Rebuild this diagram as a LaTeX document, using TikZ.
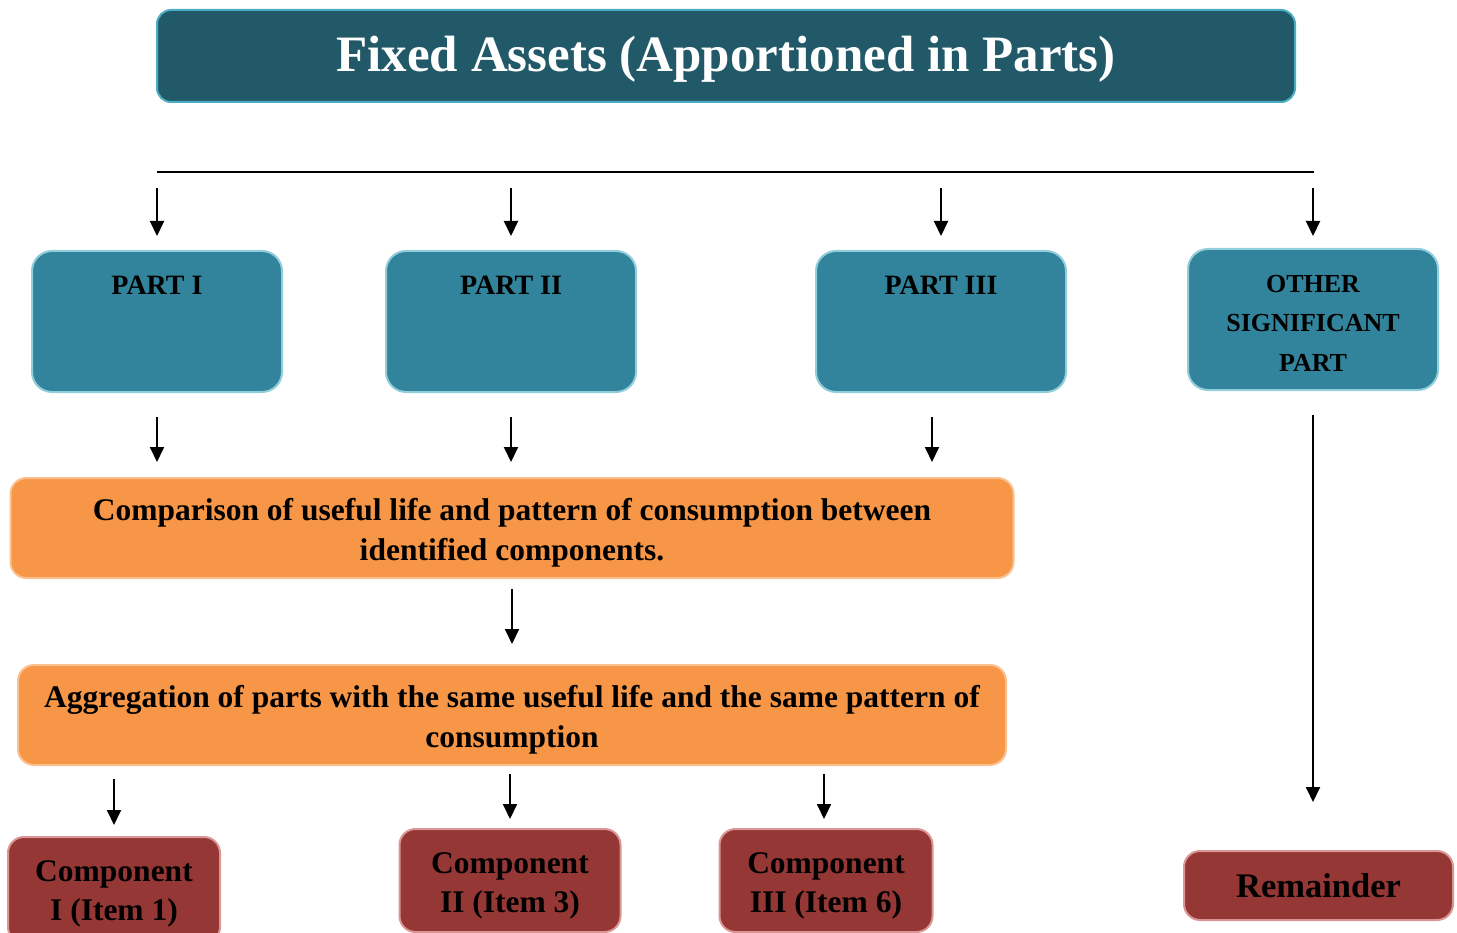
\documentclass[tikz,border=0pt]{standalone}
\usepackage{fontspec}
\setmainfont{Liberation Serif}
\usetikzlibrary{arrows.meta}

\definecolor{titlefill}{HTML}{215968}
\definecolor{titleline}{HTML}{4BACC6}
\definecolor{partfill}{HTML}{31849B}
\definecolor{partline}{HTML}{92CDDC}
\definecolor{stepfill}{HTML}{F79646}
\definecolor{stepline}{HTML}{FAC090}
\definecolor{compfill}{HTML}{953735}
\definecolor{compline}{HTML}{D99694}

\tikzset{
  box/.style={line width=2pt, inner sep=0pt, align=center},
  titlebox/.style={box, fill=titlefill, draw=titleline, rounded corners=14pt,
    minimum width=1138pt, minimum height=92pt, text=white,
    text height=44pt, text depth=12pt,
    font=\bfseries\fontsize{51}{55}\selectfont},
  partbox/.style={box, fill=partfill, draw=partline, rounded corners=20pt,
    minimum width=250pt, minimum height=141pt,
    font=\bfseries\fontsize{28}{39.5}\selectfont},
  toptext/.style={text height=20pt, text depth=73pt},
  stepbox/.style={box, fill=stepfill, draw=stepline, rounded corners=16pt,
    minimum height=100pt, text height=71pt, text depth=7pt,
    font=\bfseries\fontsize{31.5}{39.5}\selectfont},
  compbox/.style={box, fill=compfill, draw=compline, rounded corners=16pt,
    font=\bfseries\fontsize{31.5}{39}\selectfont},
  arrow/.style={line width=2pt, -{Triangle[length=15pt,width=14pt]}},
  rule/.style={line width=1.8pt}
}

\begin{document}
\begin{tikzpicture}[x=1pt, y=-1pt]
  \useasboundingbox (0,0) rectangle (1457,933);
  \clip (0,0) rectangle (1457,933);

  % heading
  \node[titlebox] (title) at (726,56) {Fixed Assets (Apportioned in Parts)};

  % the parts
  \node[partbox, toptext] (p1) at (157,321.5) {PART I};
  \node[partbox, toptext] (p2) at (511,321.5) {PART II};
  \node[partbox, toptext] (p3) at (941,321.5) {PART III};
  \node[partbox, font=\bfseries\fontsize{26}{39.5}\selectfont,
    text height=110pt, text depth=7pt]
    (p4) at (1313,319.5) {OTHER\\SIGNIFICANT\\PART};

  % the two processing steps
  \node[stepbox, minimum width=1003pt] (s1) at (512,528)
    {Comparison of useful life and pattern of consumption between\\identified components.};
  \node[stepbox, minimum width=988pt] (s2) at (512,715)
    {Aggregation of parts with the same useful life and the same pattern of\\consumption};

  % resulting components
  \node[compbox, minimum width=212pt, minimum height=106pt,
    text height=67pt, text depth=7pt] (c1) at (114,890)
    {Component\\I (Item 1)};
  \node[compbox, minimum width=221pt, minimum height=103pt,
    text height=70pt, text depth=7pt] (c2) at (510,880.5)
    {Component\\II (Item 3)};
  \node[compbox, minimum width=213pt, minimum height=103pt,
    text height=70pt, text depth=7pt] (c3) at (826,880.5)
    {Component\\III (Item 6)};
  \node[compbox, minimum width=269pt, minimum height=69pt,
    font=\bfseries\fontsize{34.5}{39}\selectfont] (rem) at (1318.5,885.5) {Remainder};

  % distribution rule under the heading
  \coordinate (ruleL) at (157,172);
  \coordinate (ruleR) at (1314,172);
  \draw[rule] (ruleL) -- (ruleR);

  \coordinate (t1) at (157,188);
  \coordinate (t2) at (511,188);
  \coordinate (t3) at (941,188);
  \coordinate (t4) at (1313,188);
  \draw[arrow, shorten >=14pt] (t1) -- (p1.north);
  \draw[arrow, shorten >=14pt] (t2) -- (p2.north);
  \draw[arrow, shorten >=14pt] (t3) -- (p3.north);
  \draw[arrow, shorten >=12pt] (t4) -- (p4.north);

  % parts to comparison
  \draw[arrow, shorten <=24pt, shorten >=15pt] (p1.south) -- (p1.south |- s1.north);
  \draw[arrow, shorten <=24pt, shorten >=15pt] (p2.south) -- (p2.south |- s1.north);
  \draw[arrow, shorten <=24pt, shorten >=15pt] ([xshift=-9pt]p3.south) -- ([xshift=-9pt]p3.south |- s1.north);

  % comparison to aggregation
  \draw[arrow, shorten <=10pt, shorten >=20pt] (s1.south) -- (s2.north);

  % aggregation to components
  \draw[arrow, shorten <=13pt, shorten >=11pt] (s2.south -| c1.north) -- (c1.north);
  \draw[arrow, shorten <=8pt, shorten >=9pt] (s2.south -| c2.north) -- (c2.north);
  \draw[arrow, shorten <=8pt, shorten >=9pt] ([xshift=-2pt]s2.south -| c3.north) -- ([xshift=-2pt]c3.north);

  % other significant part to remainder
  \draw[arrow, shorten <=24pt, shorten >=48pt] (p4.south) -- (p4.south |- rem.north);
\end{tikzpicture}
\end{document}
